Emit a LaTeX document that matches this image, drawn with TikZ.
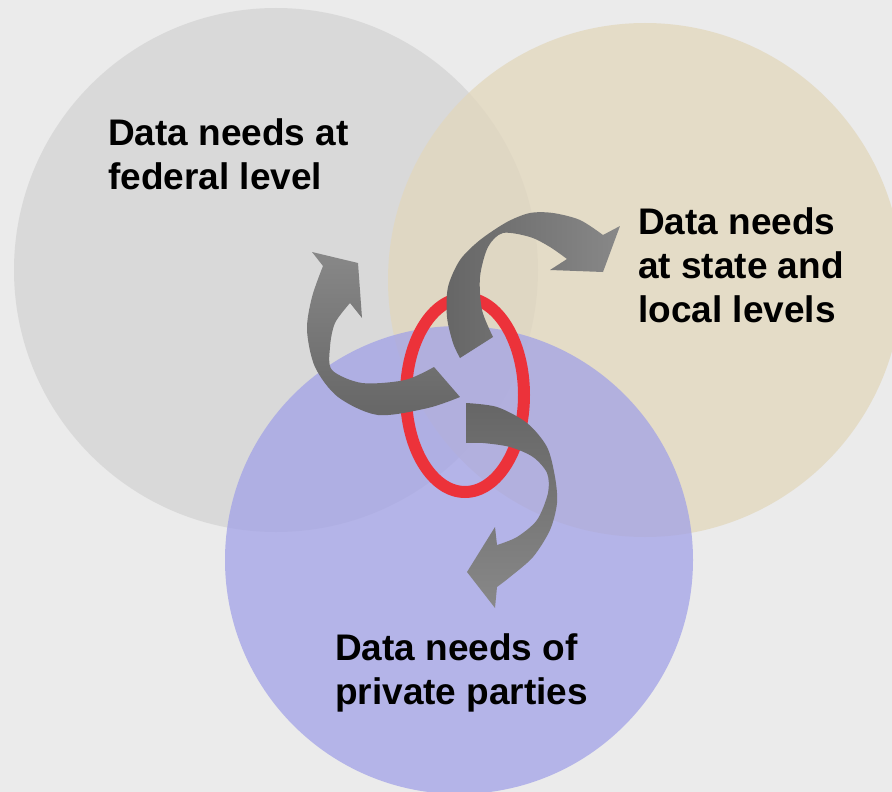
\documentclass[tikz,border=0pt]{standalone}
\usepackage{fontspec}
\setmainfont{Liberation Sans}
\usetikzlibrary{positioning}

\definecolor{bgcol}{RGB}{235,235,235}
\definecolor{fedgrey}{RGB}{212,212,212}
\definecolor{statebeige}{RGB}{226,215,188}
\definecolor{privblue}{RGB}{162,162,231}
\definecolor{ringred}{RGB}{236,50,58}
\definecolor{arrowdark}{RGB}{102,102,102}
\definecolor{arrowlight}{RGB}{136,136,136}

\begin{document}
\begin{tikzpicture}[
    x=1pt, y=-1pt,
    venn/.style={circle, inner sep=0pt, fill opacity=0.75},
    ring/.style={draw=ringred, line width=12pt},
    ribbon/.style={draw=none},
    needtext/.style={anchor=north west, inner sep=0pt, align=left, font=\bfseries\fontsize{37}{44}\selectfont}
]

\useasboundingbox (0,0) rectangle (892,792);
\fill[bgcol] (0,0) rectangle (892,792);

% Three circles
\node[venn, fill=fedgrey, minimum size=524pt] (fed) at (276,270) {};
\node[venn, fill=statebeige, minimum size=514pt] (state) at (645,280) {};
\node[venn, fill=privblue, minimum size=468pt] (priv) at (459,560) {};

% Red ring in the middle
\draw[ring] (465,395) ellipse (59pt and 97pt);

% Curved arrows
\shade[ribbon, top color=arrowlight, bottom color=arrowdark]
  plot[smooth] coordinates {(434,367) (405,380) (362,383) (332,370) (330,347) (335,323) (350,303)}
  -- (362,318) -- (358,263) -- (312,252) -- (323,266)
  -- plot[smooth] coordinates {(323,266) (312,297) (307,330) (315,367) (338,397) (378,415) (428,408) (460,397)}
  -- cycle;
\shade[ribbon, left color=arrowdark, right color=arrowlight]
  plot[smooth] coordinates {(493,337) (482,310) (480,277) (488,247) (503,233) (530,237) (550,247) (567,259)}
  -- (550,270) -- (603,272) -- (620,226) -- (603,235)
  -- plot[smooth] coordinates {(603,235) (580,220) (553,213) (530,213) (507,222) (480,240) (460,260) (448,287) (447,317) (453,343) (460,358)}
  -- cycle;
\shade[ribbon, top color=arrowdark, bottom color=arrowlight]
  plot[smooth] coordinates {(466,403) (497,407) (527,423) (547,447) (555,477) (557,503) (550,530) (533,557) (510,577) (497,587)}
  -- (495,608) -- (467,572) -- (495,527) -- (497,545)
  -- plot[smooth] coordinates {(497,545) (517,537) (537,520) (548,493) (547,473) (533,457) (510,447) (483,443) (466,443)}
  -- cycle;

% Labels
\node[needtext] (fedtext) at (108,118) {Data needs at\\federal level};
\node[needtext] (statetext) at (638,207) {Data needs\\at state and\\local levels};
\node[needtext] (privtext) at (335,633) {Data needs of\\private parties};

\end{tikzpicture}
\end{document}
